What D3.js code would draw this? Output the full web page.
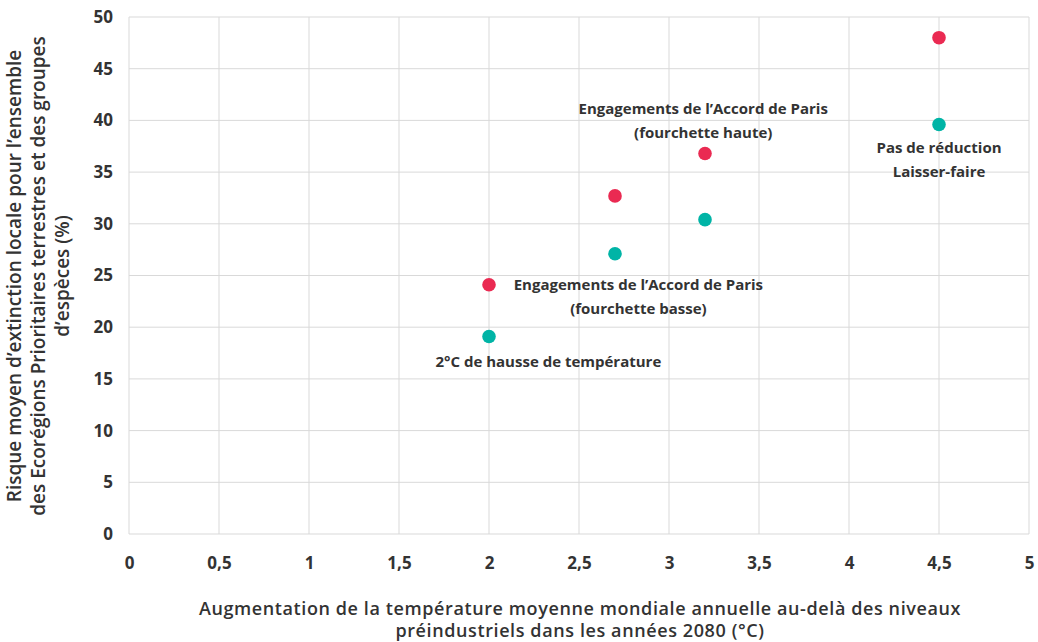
<!DOCTYPE html>
<html>
<head>
<meta charset="utf-8">
<script src="https://cdn.jsdelivr.net/npm/d3@7"></script>
<style>
  html, body { margin: 0; padding: 0; background: #fff; }
  svg text { font-family: "Open Sans", sans-serif; fill: #333; }
</style>
</head>
<body>
<svg id="chart" width="1038" height="642"></svg>
<script>
// Temperature scenarios (°C above pre-industrial, 2080s)
const temperatures = [2, 2.7, 3.2, 4.5];
// Mean local extinction risk (%) — upper estimate (red) and lower estimate (teal)
const riskHigh = [24.1, 32.7, 36.8, 48.0];
const riskLow = [19.1, 27.1, 30.4, 39.6];

const xTicks = [0, 0.5, 1, 1.5, 2, 2.5, 3, 3.5, 4, 4.5, 5];
const yTicks = [0, 5, 10, 15, 20, 25, 30, 35, 40, 45, 50];

// Scenario annotations, anchored to data coordinates (x, first baseline y)
const annotations = [
  { x: 3.19, y: 40.6, lines: ["Engagements de l\u2019Accord de Paris", "(fourchette haute)"] },
  { x: 4.5, y: 36.85, lines: ["Pas de réduction", "Laisser-faire"] },
  { x: 2.83, y: 23.6, lines: ["Engagements de l\u2019Accord de Paris", "(fourchette basse)"] },
  { x: 2.33, y: 16.15, lines: ["2°C de hausse de température"] }
];

const svg = d3.select("#chart");
const margin = { left: 129, right: 9, top: 17, bottom: 108 };
const W = 1038, H = 642;

const x = d3.scaleLinear().domain([0, 5]).range([margin.left, W - margin.right]);
const y = d3.scaleLinear().domain([0, 50]).range([H - margin.bottom, margin.top]);

const fmt = d => String(d).replace(".", ",");

// Grid
svg.append("g")
  .selectAll("line")
  .data(xTicks)
  .join("line")
  .attr("x1", d => x(d)).attr("x2", d => x(d))
  .attr("y1", y(0)).attr("y2", y(50))
  .attr("stroke", "#d9d9d9").attr("stroke-width", 1);

svg.append("g")
  .selectAll("line")
  .data(yTicks)
  .join("line")
  .attr("x1", x(0)).attr("x2", x(5))
  .attr("y1", d => y(d)).attr("y2", d => y(d))
  .attr("stroke", "#d9d9d9").attr("stroke-width", 1);

// Axes (labels only)
const xAxis = svg.append("g")
  .attr("transform", `translate(0,${y(0)})`)
  .call(d3.axisBottom(x).tickValues(xTicks).tickFormat(fmt).tickSize(0).tickPadding(23));
const yAxis = svg.append("g")
  .attr("transform", `translate(${x(0)},0)`)
  .call(d3.axisLeft(y).tickValues(yTicks).tickSize(0).tickPadding(16));
[xAxis, yAxis].forEach(g => {
  g.select(".domain").remove();
  g.selectAll("text")
    .attr("font-family", "Open Sans, sans-serif")
    .attr("font-size", 17).attr("font-weight", 700).attr("fill", "#333");
});

// Points
const pts = temperatures.map((t, i) => ({ t, hi: riskHigh[i], lo: riskLow[i] }));
svg.append("g").selectAll("circle").data(pts).join("circle")
  .attr("cx", d => x(d.t)).attr("cy", d => y(d.hi)).attr("r", 6.8)
  .attr("fill", "#ea2a52");
svg.append("g").selectAll("circle").data(pts).join("circle")
  .attr("cx", d => x(d.t)).attr("cy", d => y(d.lo)).attr("r", 6.8)
  .attr("fill", "#00b4a6");

// Annotations
annotations.forEach(a => {
  const t = svg.append("text")
    .attr("text-anchor", "middle")
    .attr("font-size", 15).attr("font-weight", 700).attr("fill", "#333");
  a.lines.forEach((l, i) => {
    t.append("tspan").attr("x", x(a.x)).attr("y", y(a.y) + i * 24).text(l);
  });
});

// Axis titles
const xt = svg.append("text").attr("text-anchor", "middle")
  .attr("font-size", 18).attr("font-weight", 600).attr("fill", "#333")
  .attr("letter-spacing", 0.6);
["Augmentation de la température moyenne mondiale annuelle au-delà des niveaux",
 "préindustriels dans les années 2080 (°C)"].forEach((l, i) => {
  xt.append("tspan").attr("x", 580).attr("y", 615 + i * 22).text(l);
});

const yt = svg.append("text").attr("text-anchor", "middle")
  .attr("transform", "translate(0,276) rotate(-90)")
  .attr("font-size", 19).attr("font-weight", 600).attr("fill", "#333");
["Risque moyen d\u2019extinction locale pour l\u2019ensemble",
 "des Ecorégions Prioritaires terrestres et des groupes",
 "d\u2019espèces (%)"].forEach((l, i) => {
  yt.append("tspan").attr("x", 0).attr("y", 21 + i * 24).text(l);
});
</script>
</body>
</html>
